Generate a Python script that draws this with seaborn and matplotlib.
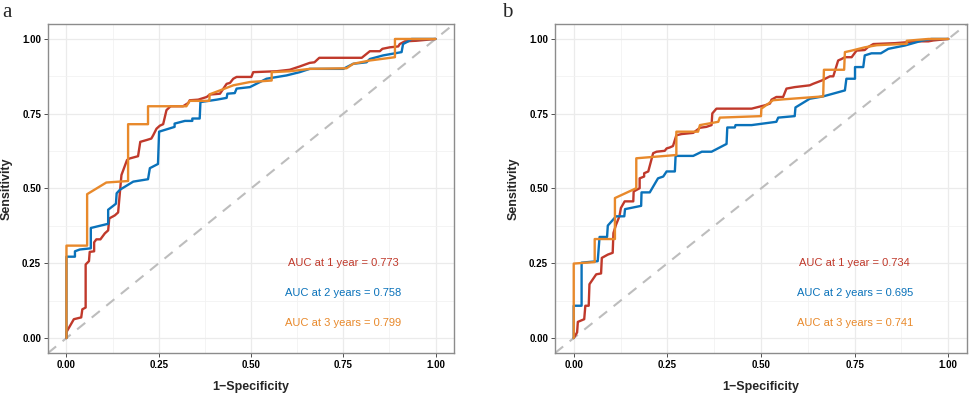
import numpy as np
import pandas as pd
import matplotlib
matplotlib.use("Agg")
import matplotlib.pyplot as plt
import seaborn as sns

# ROC curves: (1-specificity, sensitivity)
# panel a
a_fpr_1y = [0, 0, 0.02, 0.04, 0.043, 0.052, 0.052, 0.061, 0.063, 0.075, 0.075, 0.081, 0.092, 0.104, 0.113,
            0.116, 0.131, 0.14, 0.143, 0.149, 0.164, 0.17, 0.194, 0.2, 0.217, 0.23, 0.235, 0.244, 0.253,
            0.262, 0.271, 0.282, 0.316, 0.33, 0.334, 0.357, 0.38, 0.388, 0.416, 0.423, 0.434, 0.443, 0.452,
            0.461, 0.501, 0.506, 0.569, 0.605, 0.632, 0.659, 0.672, 0.685, 0.8, 0.822, 0.849, 0.856, 0.876,
            0.899, 0.903, 0.917, 0.948, 1.0]
a_tpr_1y = [0, 0.02, 0.063, 0.069, 0.096, 0.102, 0.246, 0.257, 0.288, 0.29, 0.32, 0.33, 0.33, 0.35, 0.36,
            0.40, 0.41, 0.42, 0.462, 0.545, 0.595, 0.60, 0.608, 0.656, 0.662, 0.667, 0.678, 0.70, 0.71,
            0.715, 0.762, 0.775, 0.775, 0.786, 0.795, 0.797, 0.806, 0.814, 0.817, 0.83, 0.85, 0.853, 0.867,
            0.873, 0.873, 0.889, 0.892, 0.897, 0.908, 0.92, 0.922, 0.937, 0.937, 0.959, 0.959, 0.967, 0.972,
            0.975, 0.983, 0.992, 0.994, 1.0]
a_fpr_2y = [0, 0, 0.023, 0.023, 0.036, 0.066, 0.066, 0.113, 0.113, 0.134, 0.136, 0.145, 0.181, 0.221, 0.226,
            0.248, 0.251, 0.293, 0.293, 0.321, 0.341, 0.341, 0.361, 0.363, 0.407, 0.434, 0.436, 0.456, 0.461,
            0.497, 0.542, 0.596, 0.632, 0.659, 0.75, 0.777, 0.813, 0.822, 0.858, 0.89, 0.908, 0.912, 0.926,
            0.935, 1.0]
a_tpr_2y = [0, 0.272, 0.272, 0.29, 0.296, 0.30, 0.368, 0.382, 0.429, 0.449, 0.484, 0.496, 0.523, 0.531, 0.568,
            0.582, 0.69, 0.706, 0.717, 0.726, 0.726, 0.734, 0.734, 0.789, 0.797, 0.803, 0.817, 0.819, 0.834,
            0.839, 0.867, 0.878, 0.889, 0.90, 0.90, 0.917, 0.922, 0.933, 0.945, 0.952, 0.956, 0.983, 0.992,
            1.0, 1.0]
a_fpr_3y = [0, 0, 0.056, 0.056, 0.108, 0.167, 0.167, 0.221, 0.221, 0.325, 0.334, 0.387, 0.388, 0.416, 0.452,
            0.497, 0.556, 0.556, 0.605, 0.659, 0.759, 0.777, 0.822, 0.89, 0.89, 1.0]
a_tpr_3y = [0, 0.309, 0.309, 0.481, 0.52, 0.525, 0.715, 0.715, 0.775, 0.775, 0.793, 0.793, 0.815, 0.828, 0.845,
            0.856, 0.861, 0.889, 0.892, 0.90, 0.902, 0.917, 0.928, 0.939, 1.0, 1.0]

# panel b
b_fpr_1y = [0, 0.009, 0.011, 0.028, 0.031, 0.04, 0.042, 0.06, 0.073, 0.075, 0.091, 0.104, 0.106, 0.113, 0.122,
            0.126, 0.136, 0.159, 0.16, 0.176, 0.176, 0.188, 0.188, 0.199, 0.212, 0.221, 0.243, 0.248, 0.256,
            0.265, 0.274, 0.288, 0.319, 0.337, 0.354, 0.368, 0.37, 0.381, 0.475, 0.51, 0.524, 0.528, 0.541,
            0.559, 0.568, 0.59, 0.63, 0.639, 0.662, 0.684, 0.693, 0.706, 0.715, 0.724, 0.742, 0.755, 0.777,
            0.785, 0.80, 0.858, 0.889, 0.92, 0.947, 0.96, 1.0]
b_tpr_1y = [0, 0.019, 0.054, 0.063, 0.108, 0.108, 0.18, 0.213, 0.216, 0.268, 0.279, 0.285, 0.351, 0.379, 0.407,
            0.435, 0.457, 0.457, 0.49, 0.501, 0.534, 0.54, 0.551, 0.557, 0.618, 0.623, 0.626, 0.634, 0.637,
            0.642, 0.678, 0.682, 0.686, 0.703, 0.706, 0.712, 0.751, 0.767, 0.767, 0.778, 0.784, 0.797, 0.806,
            0.806, 0.834, 0.839, 0.845, 0.85, 0.861, 0.875, 0.875, 0.928, 0.933, 0.939, 0.939, 0.961, 0.963,
            0.972, 0.983, 0.986, 0.989, 0.992, 0.992, 0.995, 1.0]
b_fpr_2y = [0, 0, 0.021, 0.021, 0.064, 0.069, 0.089, 0.091, 0.113, 0.135, 0.137, 0.18, 0.181, 0.203, 0.225,
            0.239, 0.248, 0.27, 0.272, 0.319, 0.342, 0.368, 0.408, 0.41, 0.43, 0.432, 0.475, 0.541, 0.546,
            0.59, 0.592, 0.63, 0.666, 0.724, 0.728, 0.751, 0.751, 0.773, 0.777, 0.795, 0.82, 0.84, 0.884,
            0.929, 0.955, 1.0]
b_tpr_2y = [0, 0.108, 0.108, 0.252, 0.257, 0.338, 0.338, 0.376, 0.407, 0.407, 0.431, 0.442, 0.487, 0.487, 0.534,
            0.54, 0.557, 0.557, 0.609, 0.609, 0.623, 0.623, 0.649, 0.704, 0.704, 0.712, 0.712, 0.723, 0.737,
            0.742, 0.771, 0.80, 0.808, 0.828, 0.867, 0.867, 0.906, 0.906, 0.945, 0.952, 0.952, 0.967, 0.978,
            0.994, 1.0, 1.0]
b_fpr_3y = [0, 0, 0.056, 0.056, 0.11, 0.11, 0.167, 0.167, 0.274, 0.274, 0.332, 0.337, 0.386, 0.39, 0.50, 0.501,
            0.532, 0.559, 0.666, 0.668, 0.722, 0.724, 0.742, 0.777, 0.809, 0.889, 0.889, 0.947, 1.0]
b_tpr_3y = [0, 0.249, 0.254, 0.331, 0.331, 0.468, 0.501, 0.601, 0.612, 0.69, 0.69, 0.712, 0.723, 0.737, 0.742,
            0.767, 0.795, 0.798, 0.808, 0.897, 0.897, 0.956, 0.961, 0.972, 0.979, 0.984, 0.994, 1.0, 1.0]

years = ["1 year", "2 years", "3 years"]
auc_a = [0.773, 0.758, 0.799]
auc_b = [0.734, 0.695, 0.741]
colors = ["#C0392B", "#0A72BA", "#E8892B"]
ticks = [0, 0.25, 0.5, 0.75, 1.0]
tick_labels = ["0.00", "0.25", "0.50", "0.75", "1.00"]


def make_df(curves):
    frames = []
    for yr, (fpr, tpr) in zip(years, curves):
        frames.append(pd.DataFrame({"fpr": fpr, "tpr": tpr, "year": yr}))
    return pd.concat(frames, ignore_index=True)


df_a = make_df([(a_fpr_1y, a_tpr_1y), (a_fpr_2y, a_tpr_2y), (a_fpr_3y, a_tpr_3y)])
df_b = make_df([(b_fpr_1y, b_tpr_1y), (b_fpr_2y, b_tpr_2y), (b_fpr_3y, b_tpr_3y)])

sns.set_style("white")
plt.rcParams["font.family"] = ["Liberation Sans", "DejaVu Sans"]

fig = plt.figure(figsize=(9.69, 3.94), dpi=100)
ax_a = fig.add_axes([48 / 969, 1 - 353 / 394, (454 - 48) / 969, (353 - 24) / 394])
ax_b = fig.add_axes([555 / 969, 1 - 353 / 394, (967 - 555) / 969, (353 - 24) / 394])


def draw_panel(ax, df, aucs, letter, lx):
    ax.axline((0, 0), (1, 1), color="#BDBDBD", lw=1.5, ls=(0, (5, 4)), zorder=1)
    sns.lineplot(data=df, x="fpr", y="tpr", hue="year", palette=colors, sort=False,
                 estimator=None, lw=1.7, legend=False, ax=ax, zorder=3)
    ax.set_xlim(-0.05, 1.05)
    ax.set_ylim(-0.05, 1.05)
    ax.set_xticks(ticks)
    ax.set_xticklabels(tick_labels)
    ax.set_yticks(ticks)
    ax.set_yticklabels(tick_labels)
    ax.set_xticks([0.125, 0.375, 0.625, 0.875], minor=True)
    ax.set_yticks([0.125, 0.375, 0.625, 0.875], minor=True)
    ax.grid(which="major", color="#EBEBEB", lw=0.9)
    ax.grid(which="minor", color="#F2F2F2", lw=0.6)
    ax.set_axisbelow(True)
    ax.tick_params(which="major", length=3, width=0.6, color="#333333", labelsize=7,
                   labelcolor="black", pad=2, bottom=True, left=True)
    ax.tick_params(which="minor", length=0)
    for lab in ax.get_xticklabels() + ax.get_yticklabels():
        lab.set_fontweight("bold")
    for sp in ax.spines.values():
        sp.set_color("#8C8C8C")
        sp.set_linewidth(1.0)
    ax.set_xlabel("1\u2212Specificity", fontsize=9, fontweight="bold", labelpad=8)
    ax.set_ylabel("Sensitivity", fontsize=9, fontweight="bold", labelpad=7)
    for i, (yr, auc) in enumerate(zip(years, aucs)):
        ax.text(0.75, 0.25 - 0.1 * i, f"AUC at {yr} = {auc:.3f}", color=colors[i],
                fontsize=8, ha="center", va="center")
    fig.text(lx, 1 - 17 / 394, letter, fontsize=15, family="Liberation Serif",
             ha="left", va="baseline")


draw_panel(ax_a, df_a, auc_a, "a", 2 / 969)
draw_panel(ax_b, df_b, auc_b, "b", 502 / 969)

fig.savefig("out.png", dpi=100)
